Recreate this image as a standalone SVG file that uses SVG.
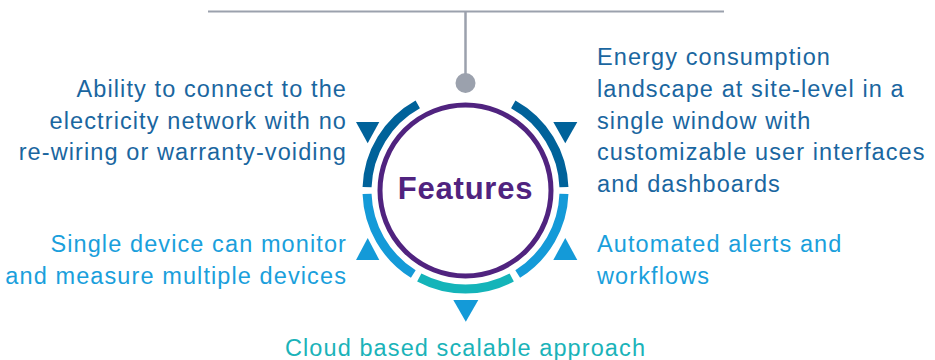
<svg xmlns="http://www.w3.org/2000/svg" width="935" height="360" viewBox="0 0 935 360">
<style>
.t{font-family:"Liberation Sans",Arial,sans-serif;font-size:23.5px;letter-spacing:1.1px}
.dk{fill:#1a66a0}
.lt{fill:#1a9fdc}
.tl{fill:#1ab3b9}
.arc{fill:none;stroke-width:9}
</style>
<rect width="935" height="360" fill="#ffffff"/>
<g id="connectors">
<line x1="208" y1="11.5" x2="724" y2="11.5" stroke="#9ba1ad" stroke-width="2"/>
<line x1="465.5" y1="11.5" x2="465.5" y2="80" stroke="#9ba1ad" stroke-width="2.5"/>
<circle cx="465.5" cy="83" r="10" fill="#9ba1ad"/>
</g>
<g id="hub">
<path class="arc" stroke="#00629a" d="M367.06,187.06 A98.5,98.5 0 0 1 417.75,104.35"/>
<path class="arc" stroke="#00629a" d="M513.25,104.35 A98.5,98.5 0 0 1 563.94,187.06"/>
<path class="arc" stroke="#149ad8" d="M563.94,193.94 A98.5,98.5 0 0 1 517.70,274.03"/>
<path class="arc" stroke="#14b4b9" d="M511.74,277.47 A98.5,98.5 0 0 1 419.26,277.47"/>
<path class="arc" stroke="#149ad8" d="M413.30,274.03 A98.5,98.5 0 0 1 367.06,193.94"/>
<circle cx="465.5" cy="190.5" r="85.5" fill="#ffffff" stroke="#50237f" stroke-width="5"/>
<text x="465.5" y="199" text-anchor="middle" font-family="'Liberation Sans',Arial,sans-serif" font-weight="bold" font-size="31" letter-spacing="0.8" fill="#50237f">Features</text>
</g>
<g id="n-connect">
<polygon points="356,122 379.3,122 367.7,143.3" fill="#00629a"/>
<text class="t dk" text-anchor="end" x="347"><tspan x="347" y="97">Ability to connect to the</tspan><tspan x="347" y="128.5">electricity network with no</tspan><tspan x="347" y="160">re-wiring or warranty-voiding</tspan></text>
</g>
<g id="n-energy">
<polygon points="553.3,122 577.3,122 565.3,143.3" fill="#00629a"/>
<text class="t dk" x="597"><tspan x="597" y="65">Energy consumption</tspan><tspan x="597" y="97">landscape at site-level in a</tspan><tspan x="597" y="128.5">single window with</tspan><tspan x="597" y="160">customizable user interfaces</tspan><tspan x="597" y="192">and dashboards</tspan></text>
</g>
<g id="n-single">
<polygon points="367.7,238 379.3,260 356,260" fill="#149ad8"/>
<text class="t lt" text-anchor="end"><tspan x="347" y="252">Single device can monitor</tspan><tspan x="347" y="284">and measure multiple devices</tspan></text>
</g>
<g id="n-alerts">
<polygon points="565.3,238 577.3,260 553.3,260" fill="#149ad8"/>
<text class="t lt"><tspan x="597" y="252">Automated alerts and</tspan><tspan x="597" y="284">workflows</tspan></text>
</g>
<g id="n-cloud">
<polygon points="453.3,300 478.3,300 465.8,321.7" fill="#149ad8"/>
<text class="t tl" x="465.5" y="356" text-anchor="middle">Cloud based scalable approach</text>
</g>
</svg>
